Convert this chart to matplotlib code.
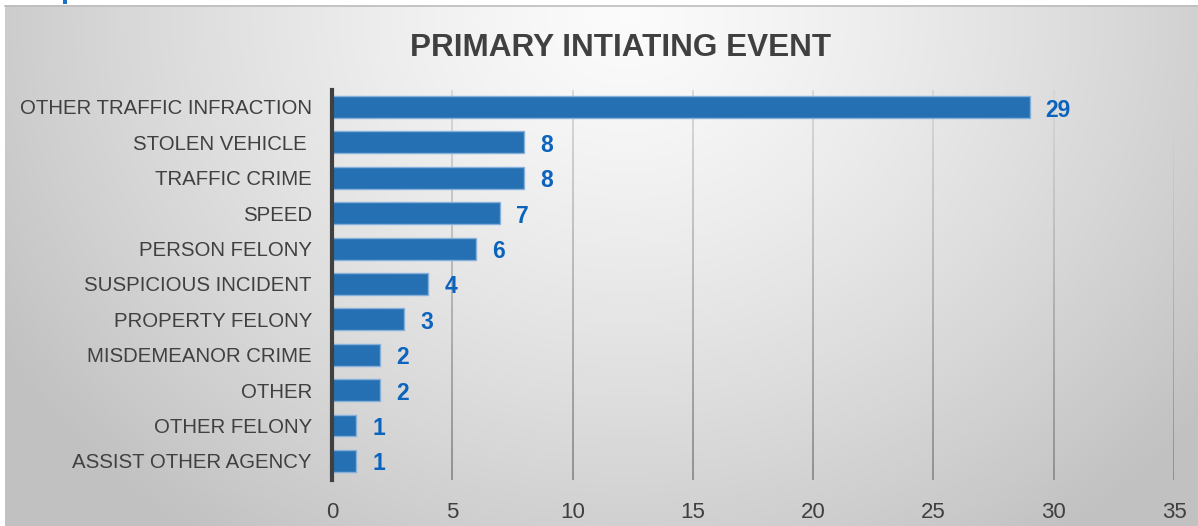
import numpy as np
import matplotlib
matplotlib.use("Agg")
import matplotlib.pyplot as plt

categories = [
    "OTHER TRAFFIC INFRACTION",
    "STOLEN VEHICLE ",
    "TRAFFIC CRIME",
    "SPEED",
    "PERSON FELONY",
    "SUSPICIOUS INCIDENT",
    "PROPERTY FELONY",
    "MISDEMEANOR CRIME",
    "OTHER",
    "OTHER FELONY",
    "ASSIST OTHER AGENCY",
]
counts = [29, 8, 8, 7, 6, 4, 3, 2, 2, 1, 1]
x_ticks = [0, 5, 10, 15, 20, 25, 30, 35]
title = "PRIMARY INTIATING EVENT"

plt.rcParams["font.family"] = ["Liberation Sans", "DejaVu Sans"]

W, H = 1198, 526
fig = plt.figure(figsize=(W / 100, H / 100), dpi=100)
fig.patch.set_facecolor("white")

# radial grey backdrop of the chart panel
bg = fig.add_axes([5 / W, 0, 1 - 5 / W, (H - 5) / H])
bg.set_axis_off()
ny, nx = 260, 600
yy, xx = np.mgrid[0:ny, 0:nx]
cx, cy = 0.52 * nx, 0.02 * ny
d = np.sqrt(((xx - cx) / (0.62 * nx)) ** 2 + ((yy - cy) / (1.25 * ny)) ** 2)
lum = np.clip(0.985 - 0.23 * d ** 1.3, 0.76, 1.0)
img = np.dstack([lum, lum, lum])
bg.imshow(img, aspect="auto", extent=[0, 1, 0, 1], origin="upper", interpolation="bilinear")
bg.set_xlim(0, 1)
bg.set_ylim(0, 1)
bg.plot([0, 1], [0.999, 0.999], color="#bdbdbd", lw=1.2, transform=bg.transAxes, clip_on=False)

# small fragment of a blue accent above the panel
fig.add_artist(plt.Rectangle((63 / W, 1 - 4 / H), 4 / W, 4 / H, transform=fig.transFigure,
                             color="#1b6fc4", lw=0))

ax = fig.add_axes([332 / W, 46 / H, (1174 - 332) / W, (480 - 90) / H])
ax.set_facecolor("none")

n = len(categories)
ypos = np.arange(n)[::-1]
y_lo, y_hi = -0.54, n - 1 + 0.48

# vertical gridlines, fading from light at the top to darker at the bottom
nseg = 40
edges = np.linspace(y_lo, y_hi, nseg + 1)
shade = np.linspace(0.55, 0.84, nseg)
for t in x_ticks[1:]:
    ax.vlines([t] * nseg, edges[:-1], edges[1:],
              colors=[(s, s, s) for s in shade], lw=1.3, zorder=1)

ax.barh(ypos, counts, height=0.62, color="#2570b3", edgecolor="#86afda", linewidth=1.0, zorder=3)

for y, v in zip(ypos, counts):
    ax.annotate(str(v), (v, y), xytext=(11.5, -2.2), textcoords="offset points",
                ha="left", va="center", fontsize=16.5, fontweight="bold", color="#0b63bd", zorder=4)

ax.set_xlim(0, 35)
ax.set_ylim(y_lo, y_hi)
ax.set_xticks(x_ticks)
ax.set_xticklabels([str(t) for t in x_ticks])
ax.set_yticks(ypos)
ax.set_yticklabels(categories)

for s in ["top", "right", "bottom"]:
    ax.spines[s].set_visible(False)
ax.spines["left"].set_color("#404040")
ax.spines["left"].set_linewidth(3)
ax.spines["left"].set_zorder(5)

ax.tick_params(axis="both", length=0, labelcolor="#404040")
ax.tick_params(axis="y", labelsize=14.7, pad=14.4)
ax.tick_params(axis="x", labelsize=16, pad=16)

fig.text(621 / W, 1 - 48.5 / H, title, ha="center", va="center",
         fontsize=22.7, fontweight="bold", color="#404040")

fig.savefig("out.png", dpi=100)
